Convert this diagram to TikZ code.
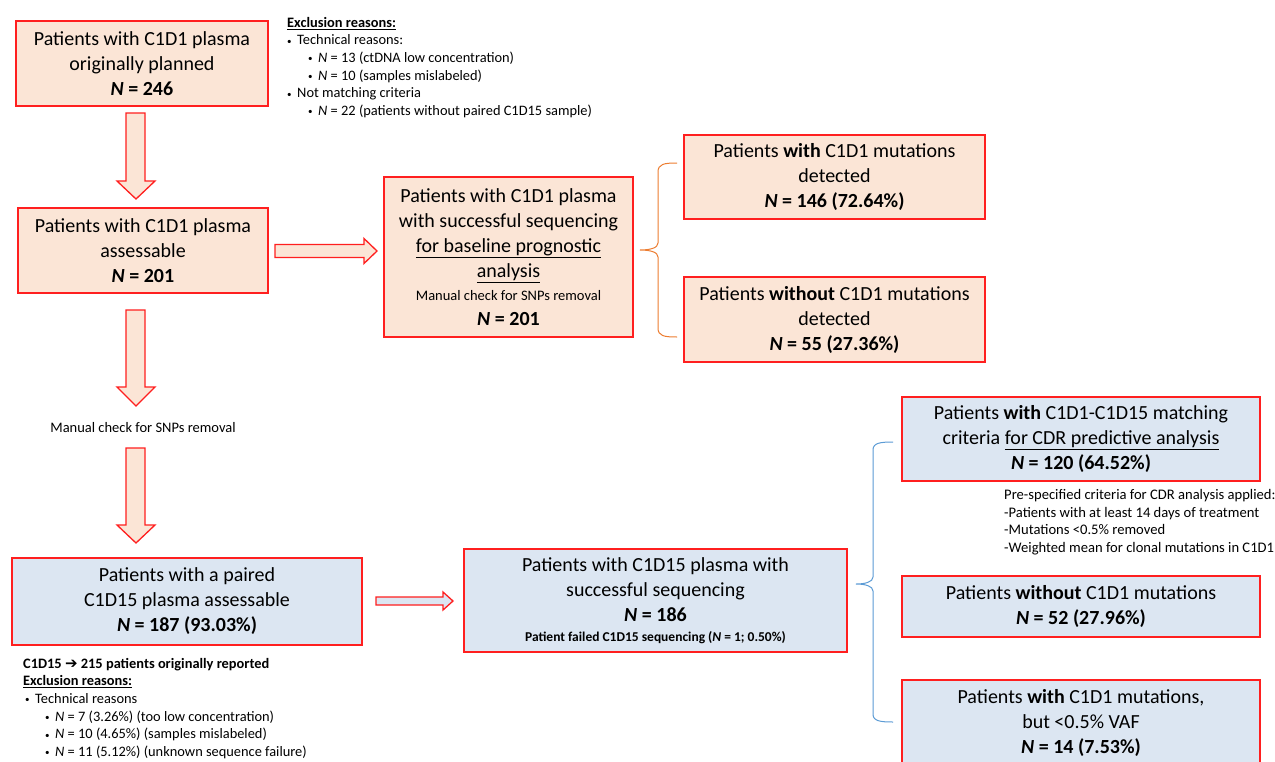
\documentclass[tikz,border=0pt]{standalone}
\usepackage{fontspec}
\setmainfont{Carlito}
\newfontfamily\dejavu{DejaVu Sans}
\definecolor{peach}{HTML}{FBE5D6}
\definecolor{lblue}{HTML}{DCE6F2}
\definecolor{bred}{HTML}{FF1F1F}
\definecolor{borange}{HTML}{ED7D31}
\definecolor{bblue}{HTML}{5B9BD5}
\newcommand{\NN}[1]{\textbf{\textit{N} = #1}}
\newcommand{\bul}{\makebox[10pt][l]{\raisebox{0.6pt}{\fontsize{9}{9}\selectfont\textbullet}}}
\begin{document}
\begin{tikzpicture}[x=1pt,y=-1pt,
  box/.style={draw=bred, line width=1.3pt, inner sep=0pt, align=center,
    font=\fontsize{20}{25}\selectfont, text=black},
  pbox/.style={box, fill=peach},
  bbox/.style={box, fill=lblue},
  parrow/.style={draw=bred, line width=1.3pt, fill=peach, line join=miter},
  barrow/.style={draw=bred, line width=1.3pt, fill=lblue, line join=miter},
  note/.style={anchor=north west, inner sep=0pt, align=left,
    font=\fontsize{14.4}{17.6}\selectfont, text=black},
  obrace/.style={draw=borange, line width=1pt},
  bbrace/.style={draw=bblue, line width=1pt},
]
\useasboundingbox (0,0) rectangle (1275,761);
\fill[white] (0,0) rectangle (1275,761);

% boxes
\node[pbox, minimum width=252, minimum height=85] (A) at (142,63.5)
  {Patients with C1D1 plasma\\originally planned\\\NN{246}};
\node[pbox, minimum width=250, minimum height=85] (B) at (143,250.5)
  {Patients with C1D1 plasma\\assessable\\\NN{201}};
\node[pbox, minimum width=249, minimum height=160] (C) at (508.5,257)
  {Patients with C1D1 plasma\\with successful sequencing\\\underline{for baseline prognostic}\\\underline{analysis}\\[-2pt]{\fontsize{14.5}{18}\selectfont Manual check for SNPs removal}\\\NN{201}};
\node[pbox, minimum width=301, minimum height=84] (E) at (834.5,177)
  {Patients \textbf{with} C1D1 mutations\\detected\\\NN{146 (72.64\%)}};
\node[pbox, minimum width=301, minimum height=85] (F) at (834.5,319.5)
  {Patients \textbf{without} C1D1 mutations\\detected\\\NN{55 (27.36\%)}};
\node[bbox, minimum width=350, minimum height=87] (D) at (187,601.5)
  {Patients with a paired\\C1D15 plasma assessable\\\NN{187 (93.03\%)}};
\node[bbox, minimum width=383, minimum height=103] (G) at (655.5,600.5)
  {Patients with C1D15 plasma with\\successful sequencing\\\NN{186}\\[-5pt]{\fontsize{13.5}{16}\selectfont\bfseries Patient failed C1D15 sequencing (\textit{N} = 1; 0.50\%)}};
\node[bbox, minimum width=358, minimum height=84] (H) at (1081,439)
  {Patients \textbf{with} C1D1-C1D15 matching\\criteria \underline{for CDR predictive analysis}\\\NN{120 (64.52\%)}};
\node[bbox, minimum width=358, minimum height=61] (I) at (1081,606.5)
  {Patients \textbf{without} C1D1 mutations\\\NN{52 (27.96\%)}};
\node[bbox, minimum width=358, minimum height=86] (J) at (1081,723)
  {Patients \textbf{with} C1D1 mutations,\\but <0.5\% VAF\\\NN{14 (7.53\%)}};

% block arrows
\draw[parrow] (126,113) -- (145,113) -- (145,181) -- (155,181) -- (136,199) -- (117,181) -- (126,181) -- cycle;
\draw[parrow] (126,310) -- (145,310) -- (145,387) -- (155,387) -- (136,406) -- (117,387) -- (126,387) -- cycle;
\draw[parrow] (126,448) -- (145,448) -- (145,525) -- (155,525) -- (136,543) -- (117,525) -- (126,525) -- cycle;
\draw[parrow] (275,244.5) -- (364,244.5) -- (364,238.5) -- (377,251) -- (364,263.5) -- (364,257.5) -- (275,257.5) -- cycle;
\draw[barrow] (376,597) -- (443,597) -- (443,592) -- (453,601) -- (443,610) -- (443,605) -- (376,605) -- cycle;

% braces
\draw[obrace] (677,163) .. controls (664,163) and (658,164) .. (658,172) -- (658,243)
  .. controls (658,248) and (650,250) .. (640,250)
  .. controls (650,250) and (658,252) .. (658,257) -- (658,328)
  .. controls (658,336) and (664,337) .. (677,337);
\draw[bbrace] (893,442) .. controls (880,442) and (873,443) .. (873,450) -- (873,577)
  .. controls (873,582) and (865,584) .. (856,584)
  .. controls (865,584) and (873,586) .. (873,591) -- (873,714)
  .. controls (873,721) and (880,722) .. (893,722);

% notes
\node[note] (exc1) at (287,17) {\textbf{\underline{Exclusion reasons:}}\\
\bul Technical reasons:\\
\hspace*{21pt}\bul\textit{N} = 13 (ctDNA low concentration)\\
\hspace*{21pt}\bul\textit{N} = 10 (samples mislabeled)\\
\bul Not matching criteria\\
\hspace*{21pt}\bul\textit{N} = 22 (patients without paired C1D15 sample)};

\node[font=\fontsize{14.5}{18}\selectfont, inner sep=0pt] (snp) at (143,428) {Manual check for SNPs removal};

\node[note, font=\fontsize{14.6}{17.8}\selectfont] (crit) at (1004,489) {Pre-specified criteria for CDR analysis applied:\\
-Patients with at least 14 days of treatment\\
-Mutations <0.5\% removed\\
-Weighted mean for clonal mutations in C1D1};

\node[note] (exc2) at (23,658) {\textbf{C1D15 {\dejavu\bfseries\fontsize{15}{14}\selectfont ➔} 215 patients originally reported}\\
\textbf{\underline{Exclusion reasons:}}\\
\hspace*{2pt}\bul Technical reasons\\
\hspace*{22pt}\bul\textit{N} = 7 (3.26\%) (too low concentration)\\
\hspace*{22pt}\bul\textit{N} = 10 (4.65\%) (samples mislabeled)\\
\hspace*{22pt}\bul\textit{N} = 11 (5.12\%) (unknown sequence failure)};
\end{tikzpicture}
\end{document}
